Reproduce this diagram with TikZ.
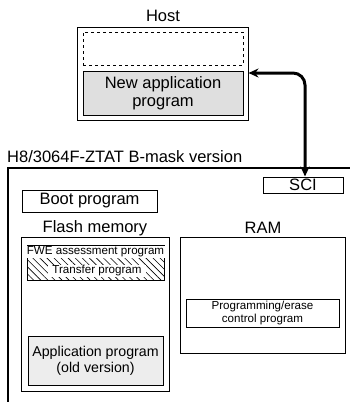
\documentclass[tikz,border=0pt]{standalone}
\usepackage{fontspec}
\setmainfont{Liberation Sans}
\usetikzlibrary{patterns.meta,arrows.meta}
\newcommand\fbig{\fontsize{16.5}{18}\selectfont}
\newcommand\fmid{\fontsize{14.2}{16}\selectfont}
\newcommand\fsmall{\fontsize{11.6}{13}\selectfont}
\tikzset{
  bx/.style={draw, line width=1pt, inner sep=0pt, align=center},
  lbl/.style={inner sep=0pt, font=\fbig},
  link/.style={line width=3pt, rounded corners=12pt, {Stealth[length=10pt,width=9pt]}-{Stealth[length=10pt,width=9pt]}},
  wtext/.style={fill=white, inner ysep=1pt, inner xsep=2pt, font=\fsmall}
}
\begin{document}
\begin{tikzpicture}[x=1pt,y=-1pt]
\useasboundingbox (0,0) rectangle (350,402);
% Host
\node[lbl] (hostlbl) at (163,16) {Host};
\node[bx, minimum width=171pt, minimum height=93pt] (hostbox) at (162.5,73.5) {};
\node[bx, dashed, minimum width=160pt, minimum height=33pt] (empty) at (163,48.5) {};
\node[bx, fill=gray!25, minimum width=160pt, minimum height=44pt, font=\fbig] (newapp) at (163,93) {New application\\program};
% chip
\node[lbl, anchor=west] (chiplbl) at (7,157) {H8/3064F-ZTAT B-mask version};
\coordinate (chipbl) at (8,402);
\coordinate (chiptl) at (8,168);
\coordinate (chiptr) at (350,168);
\draw[line width=1.2pt] (chipbl) -- (chiptl) -- (chiptr);
\node[bx, minimum width=80pt, minimum height=16pt, font=\fbig] (sci) at (303,185) {SCI};
% arrow
\coordinate (hy) at (0,73);
\coordinate (ax) at (305,0);
\draw[link] (hostbox.east |- hy) -- (ax |- hy) -- (ax |- sci.north);
% boot
\node[bx, minimum width=135pt, minimum height=22pt, font=\fbig] (boot) at (89.5,201) {Boot program};
\node[lbl] (flashlbl) at (95,228) {Flash memory};
\node[lbl] (ramlbl) at (263,228) {RAM};
\node[bx, minimum width=148pt, minimum height=154pt] (flash) at (95,314) {};
\node[bx, minimum width=165pt, minimum height=116pt] (ram) at (262.5,295) {};
% hatched
\node[bx, line width=0.9pt, minimum width=137pt, minimum height=35pt,
  pattern={Lines[angle=-45,distance=5pt,line width=0.6pt]}] (hatch) at (95.5,262.5) {};
\node[wtext] (fwe) at (95.5,252) {FWE assessment program};
\node[wtext, inner xsep=4pt] (transfer) at (97,271) {Transfer program};
\node[bx, minimum width=153pt, minimum height=28pt, font=\fsmall] (pe) at (262.5,313) {Programming/erase\\control program};
\node[bx, fill=gray!14, minimum width=135pt, minimum height=49pt, font=\fmid] (oldapp) at (95.5,360.5) {Application program\\(old version)};
\end{tikzpicture}
\end{document}
